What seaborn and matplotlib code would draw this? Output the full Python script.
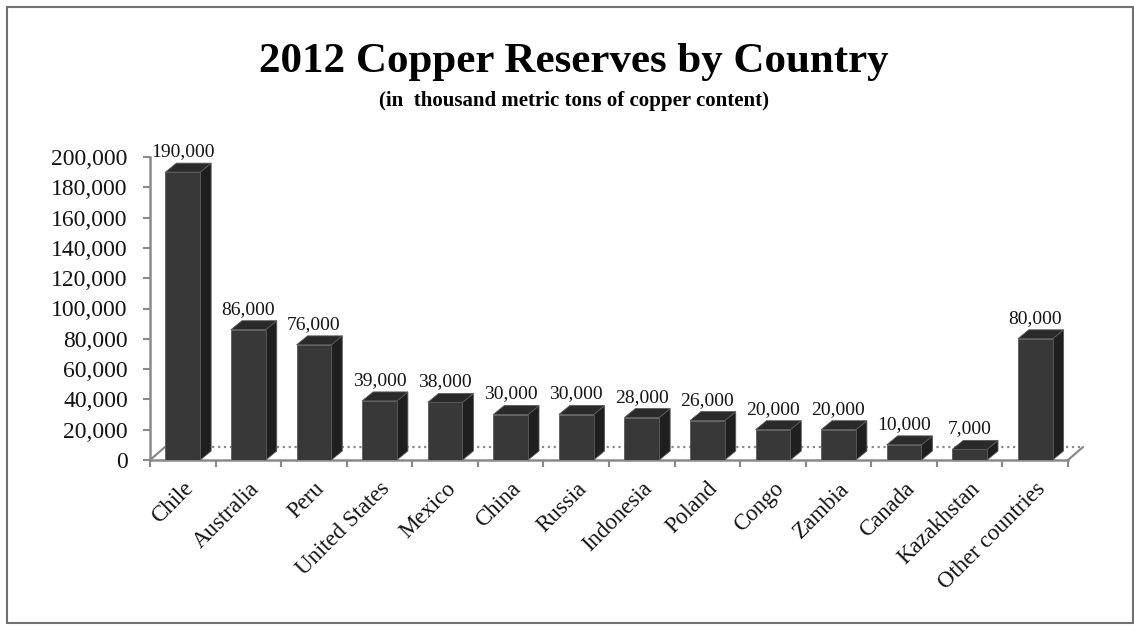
import numpy as np
import pandas as pd
import matplotlib
matplotlib.use("Agg")
import matplotlib.pyplot as plt
import seaborn as sns
from matplotlib.patches import Polygon, Rectangle
from matplotlib.lines import Line2D
from matplotlib.transforms import IdentityTransform
from matplotlib.ticker import FuncFormatter

# ---- data -------------------------------------------------------------
countries = ["Chile", "Australia", "Peru", "United States", "Mexico", "China",
             "Russia", "Indonesia", "Poland", "Congo", "Zambia", "Canada",
             "Kazakhstan", "Other countries"]
reserves = [190000, 86000, 76000, 39000, 38000, 30000, 30000, 28000,
            26000, 20000, 20000, 10000, 7000, 80000]
y_ticks = list(range(0, 200001, 20000))
title = "2012 Copper Reserves by Country"
subtitle = "(in  thousand metric tons of copper content)"

# ---- style ------------------------------------------------------------
sns.set_theme(style="white")
plt.rcParams["font.family"] = ["Liberation Serif", "DejaVu Serif"]

FRONT = "#383838"
SIDE = "#1f1f1f"
TOP = "#2a2a2a"
EDGE = "#5a5a5a"
AXIS = "#8a8a8a"
TEXT = "#141414"

W, H, DPI = 1134, 626, 100
fig = plt.figure(figsize=(W / DPI, H / DPI), dpi=DPI)
fig.patch.set_facecolor("white")

# axes box in pixel terms: x 150..1068, y(top-down) 157..460
ax = fig.add_axes([150 / W, 1 - 460 / H, (1068 - 150) / W, (460 - 157) / H])
ax.set_facecolor("none")

df = pd.DataFrame({"country": countries, "reserves": reserves})
sns.barplot(data=df, x="country", y="reserves", color=FRONT, saturation=1,
            width=0.53, ax=ax, zorder=4, edgecolor=EDGE, linewidth=0.6)
bars = list(ax.patches)

ax.set_xlim(-0.5, len(countries) - 0.5)
ax.set_ylim(0, 200000)
fig.canvas.draw()

px = ax.transData.transform
ident = IdentityTransform()

# ---- 3-D floor ----------------------------------------------------------
FDX, FDY = 15, 13
(fx0, fy0) = px((-0.5, 0))
(fx1, _) = px((len(countries) - 0.5, 0))
floor = Polygon([(fx0, fy0), (fx1, fy0), (fx1 + FDX, fy0 + FDY), (fx0 + FDX, fy0 + FDY)],
                closed=True, transform=ident, facecolor="white", edgecolor="none",
                zorder=1, clip_on=False)
ax.add_patch(floor)
for (xa, ya, xb, yb, ls) in [
        (fx0, fy0, fx0 + FDX, fy0 + FDY, "-"),
        (fx1, fy0, fx1 + FDX, fy0 + FDY, "-"),
        (fx0 + FDX, fy0 + FDY, fx1 + FDX, fy0 + FDY, ":")]:
    ax.add_line(Line2D([xa, xb], [ya, yb], transform=ident, color=AXIS,
                       lw=1.6, ls=ls, zorder=2, clip_on=False))

# ---- bar sides and tops --------------------------------------------------
BDX, BDY = 11, 9
for b in bars:
    x0, w, h = b.get_x(), b.get_width(), b.get_height()
    (xl, yb) = px((x0, 0))
    (xr, yt) = px((x0 + w, h))
    side = Polygon([(xr, yb), (xr + BDX, yb + BDY), (xr + BDX, yt + BDY), (xr, yt)],
                   closed=True, transform=ident, facecolor=SIDE, edgecolor=EDGE,
                   lw=0.6, zorder=3, clip_on=False)
    top = Polygon([(xl, yt), (xr, yt), (xr + BDX, yt + BDY), (xl + BDX, yt + BDY)],
                  closed=True, transform=ident, facecolor=TOP, edgecolor=EDGE,
                  lw=0.6, zorder=3, clip_on=False)
    ax.add_patch(side)
    ax.add_patch(top)

# ---- value labels ---------------------------------------------------------
for i, v in enumerate(reserves):
    ax.annotate(f"{v:,}", xy=(i, v), xytext=(0, 11.5), textcoords="offset points",
                ha="center", va="baseline", fontsize=14, color=TEXT,
                annotation_clip=False)

# ---- axes, ticks ------------------------------------------------------------
ax.set_xlabel("")
ax.set_ylabel("")
ax.set_yticks(y_ticks)
ax.yaxis.set_major_formatter(FuncFormatter(lambda v, _: f"{int(v):,}"))
ax.tick_params(axis="y", left=True, direction="out", length=5, width=1.5,
               color=AXIS, pad=11, labelsize=17, labelcolor=TEXT)

ax.set_xticks(range(len(countries)))
ax.set_xticklabels(countries, rotation=45, ha="right", rotation_mode="anchor",
                   fontsize=16.5, color=TEXT)
ax.set_xticks(np.arange(-0.5, len(countries), 1), minor=True)
ax.tick_params(axis="x", which="major", bottom=True, length=0, pad=13)
ax.tick_params(axis="x", which="minor", bottom=True, direction="out",
               length=5, width=1.5, color=AXIS)

for s in ("top", "right"):
    ax.spines[s].set_visible(False)
for s in ("left", "bottom"):
    ax.spines[s].set_color(AXIS)
    ax.spines[s].set_linewidth(1.8)
    ax.spines[s].set_zorder(2)
ax.grid(False)

# ---- titles ------------------------------------------------------------------
fig.text(0.506, 1 - 72 / H, title, ha="center", va="baseline",
         fontsize=31, fontweight="bold", color="black")
fig.text(0.506, 1 - 106 / H, subtitle, ha="center", va="baseline",
         fontsize=15, fontweight="bold", color="black")

# ---- outer frame ---------------------------------------------------------------
fig.add_artist(Rectangle((7 / W, 3 / H), (1133 - 7) / W, (619 - 3) / H,
                         transform=fig.transFigure, fill=False,
                         edgecolor="#707070", lw=1.5))

fig.savefig("out.png", dpi=DPI)
